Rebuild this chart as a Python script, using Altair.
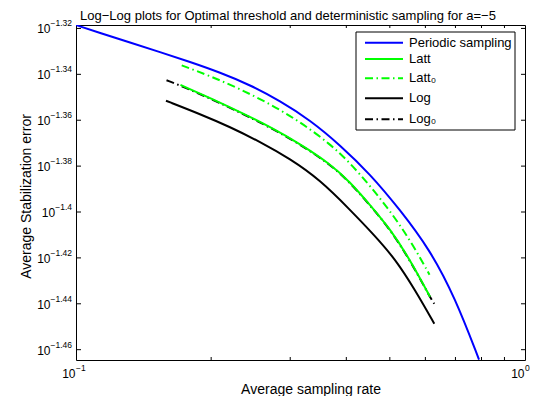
import altair as alt
import pandas as pd

# ---- data (log10 of the plotted values) ----
periodic_log_rate = [-1.0, -0.9465, -0.8797, -0.8129, -0.7461, -0.6793, -0.6125, -0.5457,
                     -0.4788, -0.4120, -0.3452, -0.2784, -0.2116, -0.1559, -0.1024]
periodic_log_err = [-1.3185, -1.3220, -1.3261, -1.3303, -1.3346, -1.3392, -1.3446, -1.3516,
                    -1.3599, -1.3708, -1.3834, -1.3990, -1.4165, -1.4373, -1.4643]

latt_log_rate = [-0.7673, -0.7016, -0.6347, -0.5679, -0.5011, -0.4343, -0.3898, -0.3452,
                 -0.3007, -0.2561, -0.2116]
latt_log_err = [-1.3446, -1.3503, -1.3564, -1.3629, -1.3703, -1.3790, -1.3869, -1.3969,
                -1.4073, -1.4208, -1.4369]

latt0_log_rate = [-0.7646, -0.7016, -0.6347, -0.5679, -0.5011, -0.4343, -0.3898, -0.3452,
                  -0.3007, -0.2561, -0.2127]
latt0_log_err = [-1.3361, -1.3407, -1.3464, -1.3529, -1.3607, -1.3703, -1.3786, -1.3886,
                 -1.3995, -1.4121, -1.4273]

log_log_rate = [-0.7996, -0.7238, -0.6570, -0.5902, -0.5234, -0.4566, -0.3898, -0.3341,
                -0.2895, -0.2450, -0.2020]
log_log_err = [-1.3515, -1.3573, -1.3629, -1.3694, -1.3768, -1.3860, -1.3990, -1.4104,
               -1.4204, -1.4339, -1.4487]

log0_log_rate = [-0.7984, -0.7673, -0.7016, -0.6347, -0.5679, -0.5011, -0.4343, -0.3898,
                 -0.3452, -0.3007, -0.2561, -0.2116, -0.2020]
log0_log_err = [-1.3426, -1.3449, -1.3505, -1.3566, -1.3631, -1.3705, -1.3792, -1.3871,
                -1.3971, -1.4075, -1.4210, -1.4371, -1.4400]

series_names = ["Periodic sampling", "Latt", "Latt\u2080", "Log", "Log\u2080"]

y_tick_exponents = [-1.46, -1.44, -1.42, -1.40, -1.38, -1.36, -1.34, -1.32]
x_tick_exponents = [-1, 0]
x_minor_ticks = [0.2, 0.3, 0.4, 0.5, 0.6, 0.7, 0.8, 0.9]

x_domain = [0.1, 1.0]
y_domain_log = [-1.4645, -1.3185]

title_text = "Log\u2212Log plots for Optimal threshold and deterministic sampling for a=\u22125"
x_title = "Average sampling rate"
y_title = "Average Stabilization error"

# ---- styles ----
FONT = "Liberation Sans"
W, H = 449, 335
BLUE, GREEN, BLACK = "#0000ff", "#00ff00", "#000000"
DASHDOT = [8, 3.5, 1.5, 3.5]
series_styles = {
    "Periodic sampling": dict(color=BLUE, dash=None),
    "Latt": dict(color=GREEN, dash=None),
    "Latt\u2080": dict(color=GREEN, dash=DASHDOT),
    "Log": dict(color=BLACK, dash=None),
    "Log\u2080": dict(color=BLACK, dash=DASHDOT),
}
legend_row_y = [17.7, 34, 53.3, 73.3, 94.3]

x_scale = alt.Scale(type="log", domain=x_domain)
y_scale = alt.Scale(type="log", domain=[10 ** y_domain_log[0], 10 ** y_domain_log[1]])


def series_df(lr, le):
    return pd.DataFrame({"rate": [10 ** v for v in lr], "err": [10 ** v for v in le]})


series_data = {
    "Periodic sampling": series_df(periodic_log_rate, periodic_log_err),
    "Latt": series_df(latt_log_rate, latt_log_err),
    "Latt\u2080": series_df(latt0_log_rate, latt0_log_err),
    "Log": series_df(log_log_rate, log_log_err),
    "Log\u2080": series_df(log0_log_rate, log0_log_err),
}


def line_layer(name):
    st = series_styles[name]
    kw = dict(color=st["color"], strokeWidth=2, clip=True, strokeCap="butt",
              interpolate="basis")
    if st["dash"]:
        kw["strokeDash"] = st["dash"]
    return alt.Chart(series_data[name]).mark_line(**kw).encode(
        x=alt.X("rate:Q", scale=x_scale, axis=None),
        y=alt.Y("err:Q", scale=y_scale, axis=None),
    )


draw_order = ["Periodic sampling", "Log\u2080", "Latt", "Latt\u2080", "Log"]
layers = [line_layer(n) for n in draw_order]

# ---- inward ticks ----
ytick_df = pd.DataFrame({
    "v": [10 ** e for e in y_tick_exponents],
    "t": [f"{e:g}".replace("-", "\u2212") for e in y_tick_exponents],
})
xminor_df = pd.DataFrame({"v": x_minor_ticks})
xtick_df = pd.DataFrame({
    "v": [10 ** e for e in x_tick_exponents],
    "t": [f"{e:g}".replace("-", "\u2212") for e in x_tick_exponents],
})

yenc = alt.Y("v:Q", scale=y_scale, axis=None)
xenc = alt.X("v:Q", scale=x_scale, axis=None)
layers += [
    alt.Chart(ytick_df).mark_rule(color=BLACK, strokeWidth=1).encode(
        y=yenc, x=alt.value(0), x2=alt.value(5)),
    alt.Chart(ytick_df).mark_rule(color=BLACK, strokeWidth=1).encode(
        y=yenc, x=alt.value(W - 4), x2=alt.value(W)),
    alt.Chart(xminor_df).mark_rule(color=BLACK, strokeWidth=1).encode(
        x=xenc, y=alt.value(H - 3), y2=alt.value(H)),
    alt.Chart(xminor_df).mark_rule(color=BLACK, strokeWidth=1).encode(
        x=xenc, y=alt.value(0), y2=alt.value(3)),
]

# ---- tick labels 10^e ----
for n_chars, exp_w in [(5, 21.5), (4, 16.8)]:
    layers.append(
        alt.Chart(ytick_df).transform_filter(f"length(datum.t) == {n_chars}")
        .mark_text(font=FONT, fontSize=12, align="right", baseline="middle",
                   dx=-4 - exp_w, dy=1, color=BLACK)
        .encode(y=yenc, x=alt.value(0), text=alt.value("10"))
    )
layers.append(
    alt.Chart(ytick_df).mark_text(font=FONT, fontSize=8.5, align="right", baseline="middle",
                                  dx=-4, dy=-5, color=BLACK)
    .encode(y=yenc, x=alt.value(0), text="t:N")
)
layers += [
    alt.Chart(xtick_df).mark_text(font=FONT, fontSize=12, align="right", baseline="middle",
                                  dx=-0.5, dy=14, color=BLACK)
    .encode(x=xenc, y=alt.value(H), text=alt.value("10")),
    alt.Chart(xtick_df).mark_text(font=FONT, fontSize=8.5, align="left", baseline="middle",
                                  dx=0, dy=8, color=BLACK)
    .encode(x=xenc, y=alt.value(H), text="t:N"),
]


# ---- titles ----
def text_layer(txt, x, y, size, angle=0, baseline="middle"):
    return alt.Chart(pd.DataFrame({"t": [txt]})).mark_text(
        font=FONT, fontSize=size, align="center", baseline=baseline, angle=angle, color=BLACK
    ).encode(text="t:N", x=alt.value(x), y=alt.value(y))


layers += [
    text_layer(title_text, 212, -5.5, 13, baseline="alphabetic"),
    text_layer(x_title, 235, 368.5, 14, baseline="alphabetic"),
    text_layer(y_title, -49.5, 171.5, 14, angle=270),
]

# ---- legend ----
layers.append(
    alt.Chart(pd.DataFrame({"a": [0]})).mark_rect(fill="white", stroke=BLACK, strokeWidth=1)
    .encode(x=alt.value(280), x2=alt.value(439), y=alt.value(7), y2=alt.value(105))
)
for name, ry in zip(series_names, legend_row_y):
    st = series_styles[name]
    kw = dict(color=st["color"], strokeWidth=2, strokeCap="butt")
    if st["dash"]:
        kw["strokeDash"] = st["dash"]
    d = pd.DataFrame({"t": [name]})
    layers.append(alt.Chart(d).mark_rule(**kw).encode(
        x=alt.value(289), x2=alt.value(327), y=alt.value(ry)))
    layers.append(alt.Chart(d).mark_text(font=FONT, fontSize=13, align="left",
                                         baseline="middle", color=BLACK)
                  .encode(text="t:N", x=alt.value(333), y=alt.value(ry)))

chart = alt.layer(*layers).properties(
    width=W, height=H,
    autosize=alt.AutoSizeParams(type="none"),
    padding={"left": 68, "top": 17, "right": 7, "bottom": 36},
).configure_view(stroke=BLACK, strokeWidth=1)

chart.save("out.html", embed_options={"renderer": "svg", "actions": False})
